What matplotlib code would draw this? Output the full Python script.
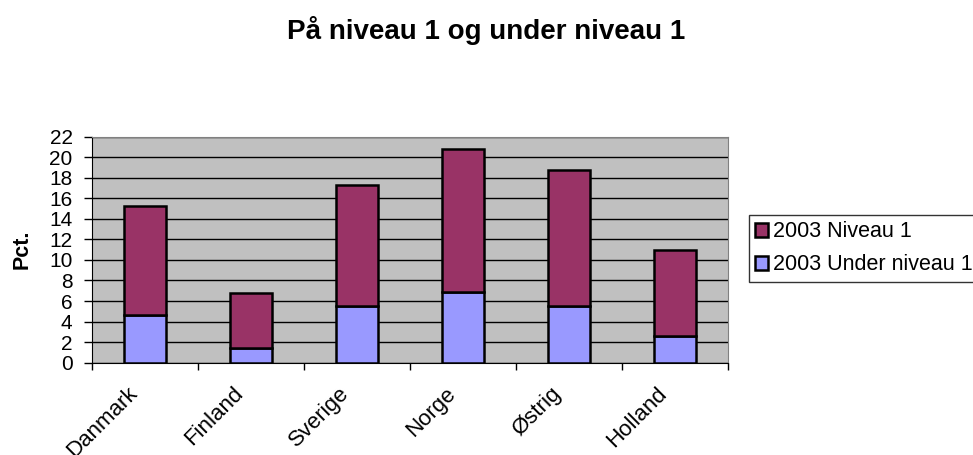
import matplotlib
matplotlib.use("Agg")
import matplotlib.pyplot as plt
import matplotlib.transforms as mtransforms
import numpy as np

plt.rcParams["font.family"] = ["Liberation Sans", "DejaVu Sans"]

countries = ["Danmark", "Finland", "Sverige", "Norge", "Østrig", "Holland"]
under_niveau1 = [4.65, 1.45, 5.5, 6.85, 5.55, 2.55]
niveau1 = [10.65, 5.3, 11.75, 13.95, 13.2, 8.45]

purple = "#993366"
lavender = "#9999FF"
grey_bg = "#C0C0C0"

fig = plt.figure(figsize=(9.73, 4.55), dpi=100)
ax = fig.add_axes([0.0946, 0.2029, 0.6537, 0.4967])
ax.set_facecolor(grey_bg)

x = np.arange(len(countries))
ax.bar(x, under_niveau1, width=0.4, color=lavender, edgecolor="black",
       linewidth=1.8, label="2003 Under niveau 1", zorder=3)
ax.bar(x, niveau1, width=0.4, bottom=under_niveau1, color=purple,
       edgecolor="black", linewidth=1.8, label="2003 Niveau 1", zorder=3)

ax.set_xlim(-0.5, len(countries) - 0.5)
ax.set_ylim(0, 22)
ax.set_yticks(np.arange(0, 23, 2))
ax.yaxis.grid(True, color="black", linewidth=1.0, zorder=1)
ax.tick_params(axis="y", labelsize=15, length=6, width=1, pad=8)

# labels at the category centres, tick marks at the category borders
ax.set_xticks(x)
ax.set_xticklabels(countries, rotation=45, ha="right", va="center",
                   rotation_mode="anchor", fontsize=16)
ax.tick_params(axis="x", length=0, pad=20)
ax.set_xticks(np.arange(-0.5, len(countries), 1), minor=True)
ax.tick_params(axis="x", which="minor", length=5, width=1)
shift = mtransforms.ScaledTranslation(-0.11, 0, fig.dpi_scale_trans)
for lbl in ax.get_xticklabels():
    lbl.set_transform(lbl.get_transform() + shift)

for side in ("top", "right"):
    ax.spines[side].set_color("#808080")
for side in ("left", "bottom"):
    ax.spines[side].set_color("black")

ax.set_ylabel("Pct.", fontsize=15.5, fontweight="bold", labelpad=12)

fig.suptitle("På niveau 1 og under niveau 1", fontsize=20,
             fontweight="bold", x=0.5, y=0.965)

handles, labels = ax.get_legend_handles_labels()
leg = fig.legend(handles[::-1], labels[::-1], loc="upper left",
                 bbox_to_anchor=(749 / 973, 1 - 215 / 455), fontsize=15.5,
                 frameon=True, fancybox=False, edgecolor="black",
                 handlelength=0.6, handleheight=0.6, handletextpad=0.2,
                 borderpad=0.3, labelspacing=0.55, borderaxespad=0)
leg.get_frame().set_linewidth(1.0)

fig.savefig("out.png", dpi=100)
